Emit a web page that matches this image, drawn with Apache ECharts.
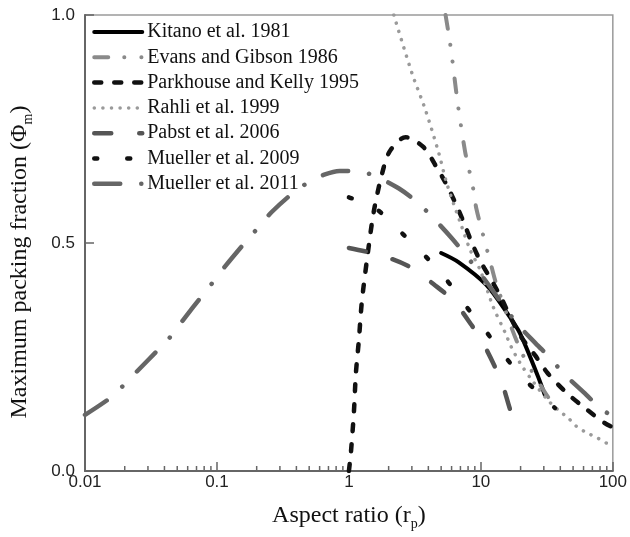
<!DOCTYPE html>
<html>
<head>
<meta charset="utf-8">
<script src="https://cdn.jsdelivr.net/npm/echarts@6/dist/echarts.min.js"></script>
<style>
html, body { margin: 0; padding: 0; background: #fff; }
#chart { width: 630px; height: 537px; }
</style>
</head>
<body>
<div id="chart"></div>
<script>
// values (x = aspect ratio, y = max packing fraction)
var kitanoX = [5, 6.76, 11, 16.2, 19.2, 21.7, 27.2, 30.5];
var kitanoY = [0.478, 0.458, 0.408, 0.342, 0.309, 0.276, 0.206, 0.167];

var evansX = [5.4, 5.9, 6.45, 6.8, 7.6, 8.3, 8.8, 9.25, 10.5, 12, 13.1, 20, 31, 38];
var evansY = [1.0, 0.93, 0.84, 0.79, 0.70, 0.65, 0.615, 0.575, 0.513, 0.45, 0.41, 0.265, 0.17, 0.135];

var parkX = [1, 1.035, 1.09, 1.13, 1.19, 1.25, 1.37, 1.55, 1.84, 2.07, 2.69, 3.68, 4.6, 5.4, 6.4, 7.4, 8.5, 10, 12, 14.3, 16.7, 20.2, 25.7, 32, 44, 61.5, 87, 100];
var parkY = [0, 0.04, 0.127, 0.215, 0.287, 0.368, 0.463, 0.572, 0.667, 0.704, 0.732, 0.71, 0.667, 0.632, 0.588, 0.546, 0.502, 0.458, 0.419, 0.379, 0.338, 0.294, 0.254, 0.215, 0.173, 0.138, 0.105, 0.096];

var rahliX = [2.19, 3, 3.8, 4.8, 5.5, 7.1, 8.3, 9.9, 12.4, 15.3, 17, 20, 25, 32, 38.5, 46, 52.5, 61.5, 77, 95, 100];
var rahliY = [1.0, 0.873, 0.792, 0.697, 0.632, 0.539, 0.485, 0.44, 0.36, 0.303, 0.272, 0.235, 0.195, 0.156, 0.134, 0.116, 0.099, 0.086, 0.072, 0.057, 0.055];

var pabstX = [1, 1.4, 2.11, 3, 4.37, 6.2, 8.5, 10.4, 12.9, 14.8, 16.7, 19.2];
var pabstY = [0.489, 0.48, 0.465, 0.445, 0.41, 0.373, 0.32, 0.28, 0.226, 0.184, 0.134, 0.09];

var mueller09X = [1, 1.57, 2.47, 3.8, 5.5, 7.8, 11, 15.5, 22.8, 36.5];
var mueller09Y = [0.6, 0.577, 0.524, 0.471, 0.419, 0.36, 0.305, 0.248, 0.193, 0.138];

var mueller11X = [0.01, 0.0155, 0.019, 0.0245, 0.037, 0.044, 0.055, 0.078, 0.092, 0.114, 0.162, 0.2, 0.26, 0.385, 0.5, 0.65, 0.85, 1.25, 1.63, 2.38, 3.15, 4, 6, 9.2, 11, 18.6, 26, 33.5, 42, 63, 80, 100];
var mueller11Y = [0.123, 0.16, 0.184, 0.217, 0.27, 0.293, 0.33, 0.386, 0.412, 0.447, 0.5, 0.53, 0.568, 0.612, 0.634, 0.65, 0.658, 0.656, 0.645, 0.62, 0.594, 0.566, 0.511, 0.445, 0.415, 0.325, 0.28, 0.248, 0.215, 0.167, 0.138, 0.12];

var minorTicks = [0.02, 0.03, 0.04, 0.05, 0.06, 0.07, 0.08, 0.09,
                  0.2, 0.3, 0.4, 0.5, 0.6, 0.7, 0.8, 0.9,
                  2, 3, 4, 5, 6, 7, 8, 9,
                  20, 30, 40, 50, 60, 70, 80, 90];
var yTicks = [0, 0.5, 1];

var serif = '"Liberation Serif", "Times New Roman", serif';
var sans = '"Liberation Sans", Arial, sans-serif';

function pairs(xs, ys) {
  return xs.map(function (x, i) { return [x, ys[i]]; });
}

function line(name, xs, ys, color, width, dash) {
  return {
    name: name,
    type: 'line',
    data: pairs(xs, ys),
    symbol: 'none',
    smooth: 0.3,
    lineStyle: { color: color, width: width, type: dash, cap: 'round', join: 'round' },
    itemStyle: { color: color },
    emphasis: { disabled: true }
  };
}

var chart = echarts.init(document.getElementById('chart'));

chart.setOption({
  animation: false,
  grid: { left: 85, top: 15, right: 15, bottom: 66, show: true, borderColor: '#9a9a9a', borderWidth: 1.5 },
  legend: {
    orient: 'vertical',
    left: 92,
    top: 22,
    padding: 0,
    itemWidth: 48,
    itemHeight: 14,
    itemGap: 5.3,
    itemStyle: { opacity: 0 },
    lineStyle: { width: 'inherit' },
    data: ['Kitano et al. 1981', 'Evans and Gibson 1986', 'Parkhouse and Kelly 1995',
           'Rahli et al. 1999', 'Pabst et al. 2006', 'Mueller et al. 2009', 'Mueller et al. 2011'],
    textStyle: { fontFamily: serif, fontSize: 20, color: '#111', lineHeight: 20 }
  },
  xAxis: {
    type: 'log',
    logBase: 10,
    min: 0.01,
    max: 100,
    name: '{n|Aspect ratio (r}{s|p}{n|)}',
    nameLocation: 'middle',
    nameGap: 30,
    nameTextStyle: {
      rich: {
        n: { fontFamily: serif, fontSize: 24, color: '#111', lineHeight: 30 },
        s: { fontFamily: serif, fontSize: 14, color: '#111', lineHeight: 14, verticalAlign: 'bottom' }
      }
    },
    axisLine: { lineStyle: { color: '#666', width: 2 } },
    axisTick: { inside: true, length: 9, lineStyle: { color: '#666', width: 1.5 } },
    axisLabel: {
      fontFamily: sans, fontSize: 17, color: '#222', margin: 3,
      formatter: function (v) { return String(parseFloat(v.toPrecision(6))); }
    },
    splitLine: { show: false }
  },
  yAxis: {
    type: 'value',
    min: 0,
    max: 1,
    interval: 0.5,
    name: '{n|Maximum packing fraction (Φ}{s|m}{n|)}',
    nameLocation: 'middle',
    nameGap: 50,
    nameTextStyle: {
      padding: [0, 38, 0, 0],
      rich: {
        n: { fontFamily: serif, fontSize: 24, color: '#111', lineHeight: 30 },
        s: { fontFamily: serif, fontSize: 14, color: '#111', lineHeight: 14, verticalAlign: 'bottom' }
      }
    },
    axisLine: { lineStyle: { color: '#666', width: 2 } },
    axisTick: { inside: true, length: 9, lineStyle: { color: '#666', width: 1.5 } },
    axisLabel: {
      fontFamily: sans, fontSize: 17, color: '#222', margin: 10,
      formatter: function (v) { return v.toFixed(1); }
    },
    splitLine: { show: false }
  },
  series: [
    line('Kitano et al. 1981', kitanoX, kitanoY, '#000', 4, 'solid'),
    line('Evans and Gibson 1986', evansX, evansY, '#8a8a8a', 4, [14, 16, 0.1, 17, 0.1, 17]),
    line('Parkhouse and Kelly 1995', parkX, parkY, '#111', 4.5, [7, 13]),
    line('Rahli et al. 1999', rahliX, rahliY, '#9a9a9a', 3.5, [0.1, 8.5]),
    line('Pabst et al. 2006', pabstX, pabstY, '#555', 4.5, [17, 28]),
    line('Mueller et al. 2009', mueller09X, mueller09Y, '#111', 4.5, [3, 30]),
    line('Mueller et al. 2011', mueller11X, mueller11Y, '#666', 4.5, [26, 21, 0.1, 21]),
    {
      name: 'minorTicks',
      type: 'custom',
      silent: true,
      data: minorTicks.map(function (v) { return [v, yTicks[0]]; }),
      renderItem: function (params, api) {
        var p = api.coord([api.value(0), api.value(1)]);
        return {
          type: 'line',
          shape: { x1: p[0], y1: p[1], x2: p[0], y2: p[1] - 5 },
          style: { stroke: '#666', lineWidth: 1.5 }
        };
      }
    }
  ]
});
</script>
</body>
</html>
